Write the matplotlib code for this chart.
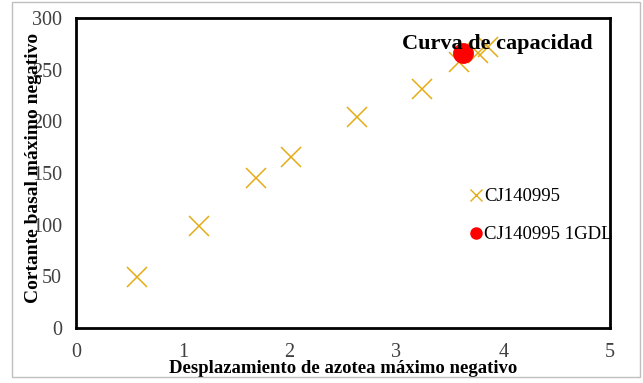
import matplotlib
matplotlib.use("Agg")
from matplotlib import pyplot as plt
from matplotlib.lines import Line2D
from matplotlib.patches import Rectangle

# CJ140995 datos (desplazamiento, cortante)
desp = [0.57, 1.15, 1.69, 2.01, 2.63, 3.24, 3.59, 3.76, 3.86]
cortante = [49, 99, 145, 165, 204, 231, 257, 266, 272]

# CJ140995 1GDL
desp_1gdl = [3.62]
cortante_1gdl = [266]

x_ticks = [0, 1, 2, 3, 4, 5]
y_ticks = [0, 50, 100, 150, 200, 250, 300]

gold = '#E5AB17'
plt.rcParams['font.family'] = ['Liberation Serif', 'DejaVu Serif']

fig = plt.figure(figsize=(6.43, 3.83), dpi=100)
ax = fig.add_axes([76 / 643, 1 - 328 / 383, (610 - 76) / 643, (328 - 18) / 383])

ax.plot(desp, cortante, linestyle='none', marker='x', markersize=14,
        markeredgewidth=1.1, color=gold, label='CJ140995')
ax.plot(desp_1gdl, cortante_1gdl, linestyle='none', marker='o', markersize=14,
        color='#FF0000', label='CJ140995 1GDL')

ax.set_xlim(0, 5)
ax.set_ylim(0, 300)
ax.set_xticks(x_ticks)
ax.set_yticks(y_ticks)
ax.tick_params(length=0, labelsize=14.5, colors='#404040')
ax.tick_params(axis='x', pad=11)
ax.tick_params(axis='y', pad=10)
for s in ax.spines.values():
    s.set_linewidth(2)
    s.set_color('black')

ax.set_xlabel('Desplazamiento de azotea máximo negativo', fontsize=13.5, fontweight='bold')
ax.set_ylabel('Cortante basal máximo negativo', fontsize=14, fontweight='bold')
ax.xaxis.set_label_coords(0.5, -0.102)
ax.yaxis.set_label_coords(-0.064, 0.515)

ax.text(0.968, 0.915, 'Curva de capacidad', transform=ax.transAxes, fontsize=16,
        fontweight='bold', ha='right', va='center')

handles = [
    Line2D([], [], linestyle='none', marker='x', markersize=8, markeredgewidth=1, color=gold),
    Line2D([], [], linestyle='none', marker='o', markersize=8, color='#FF0000'),
]
ax.legend(handles, ['CJ140995', 'CJ140995 1GDL'], frameon=False, fontsize=13.5,
          loc='upper left', bbox_to_anchor=(0.725, 0.475), handlelength=0.6,
          handletextpad=0.1, labelspacing=1.1, borderaxespad=0)

fig.patches.append(Rectangle((12 / 643, 1 - 377 / 383), (640 - 12) / 643, (377 - 2) / 383,
                             transform=fig.transFigure, fill=False,
                             edgecolor='#BFBFBF', linewidth=1))

fig.savefig('out.png', dpi=100)
